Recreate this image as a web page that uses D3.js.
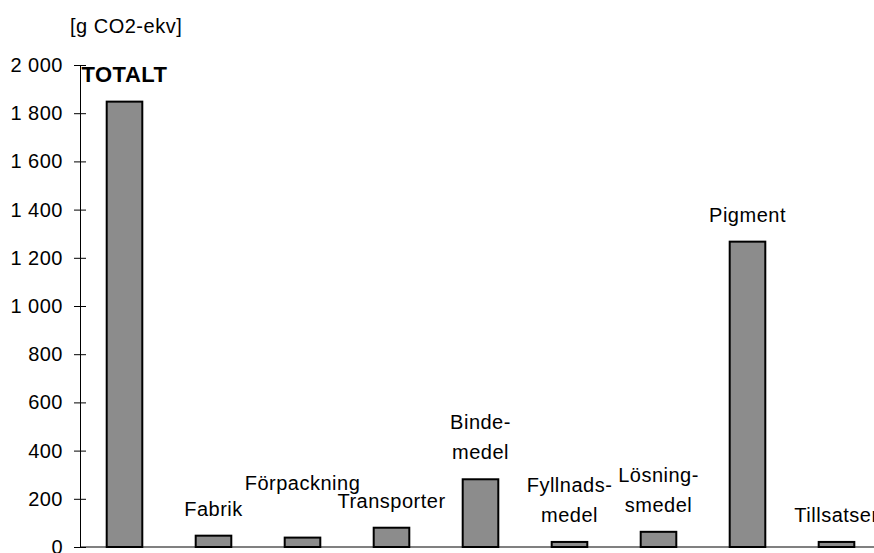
<!DOCTYPE html>
<html>
<head>
<meta charset="utf-8">
<script src="https://cdn.jsdelivr.net/npm/d3@7"></script>
<style>
  body { margin: 0; background: #fff; }
  text { font-family: "Liberation Sans", Arial, sans-serif; fill: #000; letter-spacing: 0.5px; }
</style>
</head>
<body>
<div id="chart"></div>
<script>
// data
var categories = ["TOTALT", "Fabrik", "Förpackning", "Transporter", "Bindemedel",
                  "Fyllnadsmedel", "Lösningsmedel", "Pigment", "Tillsatser"];
var values = [1848, 47, 39, 80, 281, 21, 63, 1267, 21];
var labelLines = [["TOTALT"], ["Fabrik"], ["Förpackning"], ["Transporter"], ["Binde-", "medel"],
                  ["Fyllnads-", "medel"], ["Lösning-", "smedel"], ["Pigment"], ["Tillsatser"]];
var yTicks = [0, 200, 400, 600, 800, 1000, 1200, 1400, 1600, 1800, 2000];
var unitLabel = "[g CO2-ekv]";

function draw() {
    var width = 874, height = 553;
    var left = 80, top = 65, bottom = 547;

    var svg = d3.select("#chart").append("svg")
        .attr("width", width)
        .attr("height", height);

    // scales
    var x = d3.scaleBand().domain(categories)
        .range([left, left + 9 * 89])
        .paddingInner(0.6)
        .paddingOuter(0.3);
    var y = d3.scaleLinear().domain([0, 2000]).range([bottom, top]);

    var fmt = d3.formatLocale({decimal: ",", thousands: " ", grouping: [3], currency: ["", ""]}).format(",");

    // x axis line (grey)
    svg.append("line")
        .attr("x1", left).attr("x2", width)
        .attr("y1", y(0)).attr("y2", y(0))
        .attr("stroke", "#808080")
        .attr("stroke-width", 2);

    // bars
    svg.selectAll(".bar")
        .data(values)
        .enter().append("rect")
        .attr("class", "bar")
        .attr("x", function (d, i) { return x(categories[i]); })
        .attr("y", function (d) { return y(d); })
        .attr("width", x.bandwidth())
        .attr("height", function (d) { return y(0) - y(d); })
        .attr("fill", "#8c8c8c")
        .attr("stroke", "#000")
        .attr("stroke-width", 2);

    // y axis
    var yAxis = svg.append("g")
        .attr("transform", "translate(" + left + ",0)")
        .call(d3.axisLeft(y).tickValues(yTicks).tickFormat(fmt)
            .tickSize(6).tickSizeOuter(0).tickPadding(11));
    yAxis.select(".domain").attr("stroke", "#000").attr("stroke-width", 1);
    yAxis.selectAll(".tick line").attr("x1", 6).attr("x2", -6).attr("stroke", "#000");
    yAxis.selectAll(".tick text")
        .style("font-family", "'Liberation Sans', Arial, sans-serif")
        .style("font-size", "20px")
        .style("letter-spacing", "0.5px")
        .attr("fill", "#000");

    // unit label
    svg.append("text")
        .attr("x", 70)
        .attr("y", 33)
        .style("font-size", "20px")
        .text(unitLabel);

    // category labels above bars
    var lineH = 30;
    var lbl = svg.selectAll(".lbl")
        .data(labelLines)
        .enter().append("text")
        .attr("class", "lbl")
        .attr("text-anchor", "middle")
        .style("font-size", function (d, i) { return i === 0 ? "22px" : "20px"; })
        .style("font-weight", function (d, i) { return i === 0 ? "bold" : "normal"; })
        .attr("transform", function (d, i) {
            var cx = x(categories[i]) + x.bandwidth() / 2;
            var base = y(values[i]) - 20 - (d.length - 1) * lineH;
            if (categories[i] === "Förpackning") base -= 28; // lifted to clear neighbour
            return "translate(" + cx + "," + base + ")";
        });
    lbl.selectAll("tspan")
        .data(function (d) { return d; })
        .enter().append("tspan")
        .attr("x", 0)
        .attr("y", function (d, j) { return j * lineH; })
        .text(function (d) { return d; });
}

draw();
</script>
</body>
</html>
